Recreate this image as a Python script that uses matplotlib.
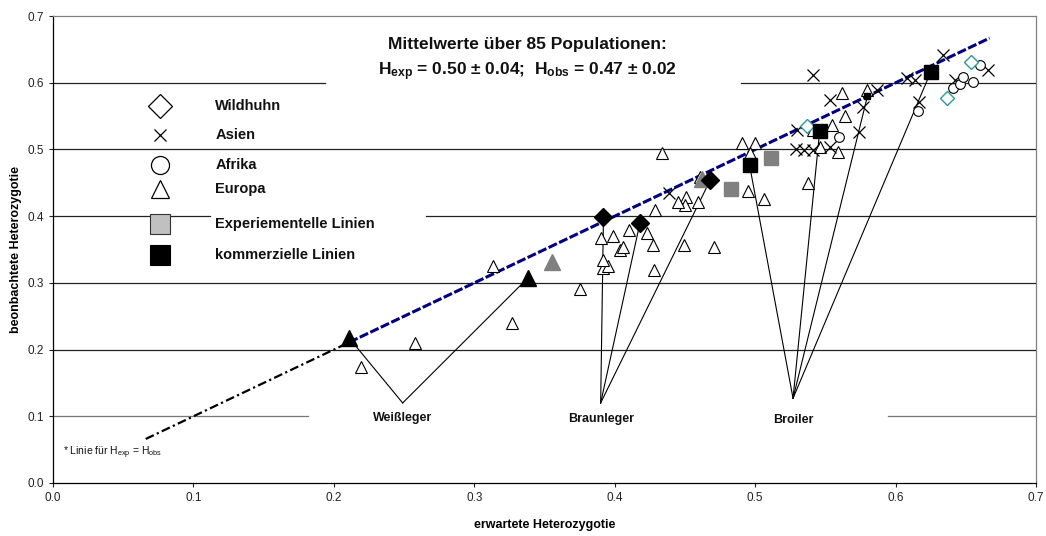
import matplotlib.pyplot as plt

plt.rcParams['font.family'] = ['Liberation Sans', 'DejaVu Sans']
plt.rcParams['mathtext.fontset'] = 'custom'
plt.rcParams['mathtext.rm'] = 'Liberation Sans'
plt.rcParams['mathtext.bf'] = 'Liberation Sans:bold'
plt.rcParams['mathtext.it'] = 'Liberation Sans:italic'

# Wildhuhn (offene Rauten)
wild_x = [0.537, 0.637, 0.654]
wild_y = [0.535, 0.577, 0.631]

# Asien
asien_x = [0.439, 0.541, 0.553, 0.530, 0.529, 0.535, 0.541, 0.553, 0.574, 0.577,
           0.587, 0.608, 0.614, 0.617, 0.634, 0.642, 0.666]
asien_y = [0.435, 0.612, 0.574, 0.529, 0.500, 0.499, 0.499, 0.504, 0.526, 0.564,
           0.589, 0.607, 0.604, 0.571, 0.642, 0.604, 0.619]

# Afrika
afrika_x = [0.560, 0.616, 0.641, 0.646, 0.648, 0.655, 0.660]
afrika_y = [0.519, 0.558, 0.592, 0.598, 0.609, 0.601, 0.627]

# Europa
europa_x = [0.219, 0.258, 0.313, 0.327, 0.375, 0.392, 0.395, 0.392, 0.428, 0.390,
            0.399, 0.410, 0.404, 0.406, 0.423, 0.427, 0.429, 0.434, 0.449, 0.451,
            0.450, 0.459, 0.445, 0.461, 0.471, 0.491, 0.500, 0.496, 0.495, 0.506,
            0.538, 0.546, 0.559, 0.555, 0.564, 0.562, 0.541, 0.580]
europa_y = [0.174, 0.210, 0.326, 0.240, 0.291, 0.322, 0.325, 0.334, 0.319, 0.367,
            0.370, 0.379, 0.349, 0.354, 0.375, 0.357, 0.409, 0.495, 0.357, 0.429,
            0.417, 0.421, 0.421, 0.459, 0.354, 0.510, 0.510, 0.495, 0.438, 0.426,
            0.450, 0.504, 0.496, 0.537, 0.550, 0.585, 0.529, 0.589]

# Linien: Weißleger (Dreiecke), Braunleger (Rauten), Broiler (Quadrate)
weiss_kom_x = [0.211, 0.338]
weiss_kom_y = [0.217, 0.307]
weiss_exp_x = [0.355, 0.462]
weiss_exp_y = [0.331, 0.455]
braun_kom_x = [0.392, 0.418, 0.468]
braun_kom_y = [0.399, 0.390, 0.454]
broiler_exp_x = [0.483, 0.511]
broiler_exp_y = [0.441, 0.487]
broiler_kom_x = [0.496, 0.546, 0.580, 0.625]
broiler_kom_y = [0.477, 0.528, 0.580, 0.616]

# Beschriftungen und Ankerpunkte
gruppen = ['Weißleger', 'Braunleger', 'Broiler']
anker_x = [0.249, 0.390, 0.527]
anker_y = [0.120, 0.120, 0.127]
label_y = [0.098, 0.096, 0.095]

# Linie Hexp = Hobs
diag_lo = [0.066, 0.211]
diag_hi = [0.211, 0.667]

legende = ['Wildhuhn', 'Asien', 'Afrika', 'Europa', 'Experiementelle Linien', 'kommerzielle Linien']

fig = plt.figure(figsize=(10.46, 5.36), dpi=100)
ax = fig.add_axes([0.0507, 0.0989, 0.9397, 0.8711])
ax.set_xlim(0, 0.7)
ax.set_ylim(0, 0.7)

# Gitterlinien (teilweise von Textfeldern verdeckt wie im Original)
gitter = {0.1: [(0, 0.259), (0.849, 1)], 0.2: [(0, 1)], 0.3: [(0, 1)],
          0.4: [(0, 0.160), (0.379, 1)], 0.5: [(0, 1)], 0.6: [(0, 0.277), (0.700, 1)]}
for yy, segs in gitter.items():
    for a, b in segs:
        ax.axhline(yy, a, b, color='#777777' if yy == 0.1 else '#222222', lw=0.9, zorder=1)

# Verbindungslinien
gruppen_pts = [(weiss_kom_x, weiss_kom_y), (braun_kom_x, braun_kom_y), (broiler_kom_x, broiler_kom_y)]
for i, (gx, gy) in enumerate(gruppen_pts):
    for px, py in zip(gx, gy):
        ax.plot([anker_x[i], px], [anker_y[i], py], color='black', lw=0.8, zorder=2)
    ax.text(anker_x[i], label_y[i], gruppen[i], ha='center', va='center',
            fontsize=9, fontweight='bold', color='#111111')

ax.plot(diag_lo, diag_lo, color='black', lw=1.6, linestyle=(0, (4, 1.5, 1, 1.5)), zorder=2)
ax.plot(diag_hi, diag_hi, color='#000080', lw=2.2, linestyle=(0, (3, 0.8)), zorder=2)

ax.plot(europa_x, europa_y, '^', ms=8.5, mfc='white', mec='black', mew=0.8, zorder=3)
ax.plot(asien_x, asien_y, 'x', ms=8.5, color='black', mew=0.9, zorder=4)
ax.plot(afrika_x, afrika_y, 'o', ms=7, mfc='white', mec='black', mew=0.8, zorder=4)
ax.plot(wild_x, wild_y, 'D', ms=6.8, mfc='white', mec='#2a9a9a', mew=1.0, zorder=4)

ax.plot(weiss_kom_x, weiss_kom_y, '^', ms=11, color='black', zorder=5)
ax.plot(weiss_exp_x, weiss_exp_y, '^', ms=12, color='#808080', zorder=5)
ax.plot(braun_kom_x, braun_kom_y, 'D', ms=8.7, color='black', zorder=5)
ax.plot(broiler_exp_x, broiler_exp_y, 's', ms=10, color='#808080', zorder=5)
ax.plot(broiler_kom_x[:2] + broiler_kom_x[3:], broiler_kom_y[:2] + broiler_kom_y[3:],
        's', ms=10.3, color='black', zorder=5)
ax.plot(broiler_kom_x[2], broiler_kom_y[2], 's', ms=4.5, color='black', zorder=5)

# Legende
leg_stil = [dict(marker='D', ms=12.7, mfc='white', mec='black', mew=0.9),
            dict(marker='x', ms=8.5, color='black', mew=0.9),
            dict(marker='o', ms=13, mfc='white', mec='black', mew=0.9),
            dict(marker='^', ms=13, mfc='white', mec='black', mew=0.9),
            dict(marker='s', ms=14.6, mfc='#c0c0c0', mec='#333333', mew=0.8),
            dict(marker='s', ms=14.6, mfc='black', mec='black', mew=0.8)]
leg_y = [0.807, 0.746, 0.681, 0.629, 0.554, 0.488]
for lab, st, yy in zip(legende, leg_stil, leg_y):
    ax.plot(0.109, yy, transform=ax.transAxes, linestyle='none', zorder=6, clip_on=False, **st)
    ax.text(0.165, yy, lab, transform=ax.transAxes, ha='left', va='center',
            fontsize=10.5, fontweight='bold', color='#111111')

ax.text(0.483, 0.940, 'Mittelwerte über 85 Populationen:', transform=ax.transAxes,
        ha='center', va='center', fontsize=12.5, fontweight='bold', color='#111111')
ax.text(0.483, 0.880, r'H$_{\mathbf{exp}}$ = 0.50 ± 0.04;  H$_{\mathbf{obs}}$ = 0.47 ± 0.02',
        transform=ax.transAxes, ha='center', va='center', fontsize=12.5,
        fontweight='bold', color='#111111')
ax.text(0.007, 0.046, r'* Linie für H$_{\mathrm{exp}}$ = H$_{\mathrm{obs}}$',
        ha='left', va='center', fontsize=7.5, color='#111111')

ax.set_xticks([0.0, 0.1, 0.2, 0.3, 0.4, 0.5, 0.6, 0.7])
ax.set_yticks([0.0, 0.1, 0.2, 0.3, 0.4, 0.5, 0.6, 0.7])
ax.set_xticklabels(['0.0', '0.1', '0.2', '0.3', '0.4', '0.5', '0.6', '0.7'])
ax.set_yticklabels(['0.0', '0.1', '0.2', '0.3', '0.4', '0.5', '0.6', '0.7'])
ax.tick_params(axis='both', labelsize=8.5, length=3, width=0.8, pad=3.5, colors='#222222')
ax.tick_params(axis='x', direction='out')
for s in ['left', 'bottom']:
    ax.spines[s].set_color('black')
    ax.spines[s].set_linewidth(0.9)
for s in ['top', 'right']:
    ax.spines[s].set_color('#808080')
    ax.spines[s].set_linewidth(0.9)

ax.set_xlabel('erwartete Heterozygotie', fontsize=9, fontweight='bold', labelpad=11)
ax.set_ylabel('beonbachtete Heterozygotie', fontsize=9, fontweight='bold', labelpad=4)

fig.savefig('out.png', dpi=100)
